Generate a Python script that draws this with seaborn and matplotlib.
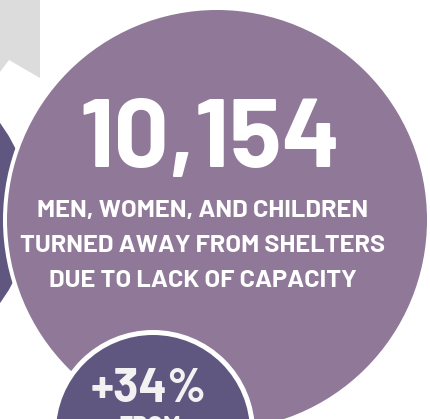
import matplotlib
matplotlib.use("Agg")
import matplotlib.pyplot as plt
from matplotlib.patches import Circle, Polygon
import seaborn as sns

# ---- content ----
headline_value = ["10,154"]
headline_lines = ["MEN, WOMEN, AND CHILDREN",
                  "TURNED AWAY FROM SHELTERS",
                  "DUE TO LACK OF CAPACITY"]
change_value = ["+34%"]
change_caption = ["FROM"]

# ---- colours ----
big_color = "#8f7898"
small_color = "#5f5780"
gray_color = "#dcdcdc"

sns.set_theme(style="white")
plt.rcParams['font.family'] = ['Barlow', 'Barlow Semi Condensed', 'DejaVu Sans']

W, H = 430, 419
fig = plt.figure(figsize=(W / 100, H / 100), dpi=100)
ax = fig.add_axes([0, 0, 1, 1])
ax.set_xlim(0, W)
ax.set_ylim(H, 0)
ax.axis("off")

# grey ribbon top-left
ax.add_patch(Polygon([(0, 0), (40, 0), (40, 78), (9, 60), (0, 72)],
                     closed=True, color=gray_color, lw=0, zorder=1))
# dark circle at left edge
ax.add_patch(Circle((-120, 213), 150, color=small_color, lw=0, zorder=1))
# white ring + big circle
ax.add_patch(Circle((217, 220), 214, color="white", lw=0, zorder=2))
ax.add_patch(Circle((217, 220), 210, color=big_color, lw=0, zorder=3))
# small circle with white ring
ax.add_patch(Circle((153, 432), 102, color="white", lw=0, zorder=4))
ax.add_patch(Circle((153, 432), 97, color=small_color, lw=0, zorder=5))

ax.text(210, 167, headline_value[0], color="white", fontsize=70,
        fontweight="bold", ha="center", va="baseline", zorder=6)
for i, line in enumerate(headline_lines):
    ax.text(203, 217 + 35 * i, line, color="white", fontsize=18.3,
            fontweight="bold", ha="center", va="baseline", zorder=6)
ax.text(149, 402, change_value[0], color="#f2f2f2", fontsize=34,
        fontweight="bold", ha="center", va="baseline", zorder=6)
ax.text(150, 433, change_caption[0], color="#f2f2f2", fontsize=18,
        fontweight="bold", ha="center", va="baseline", zorder=6)

fig.savefig("out.png", dpi=100)
